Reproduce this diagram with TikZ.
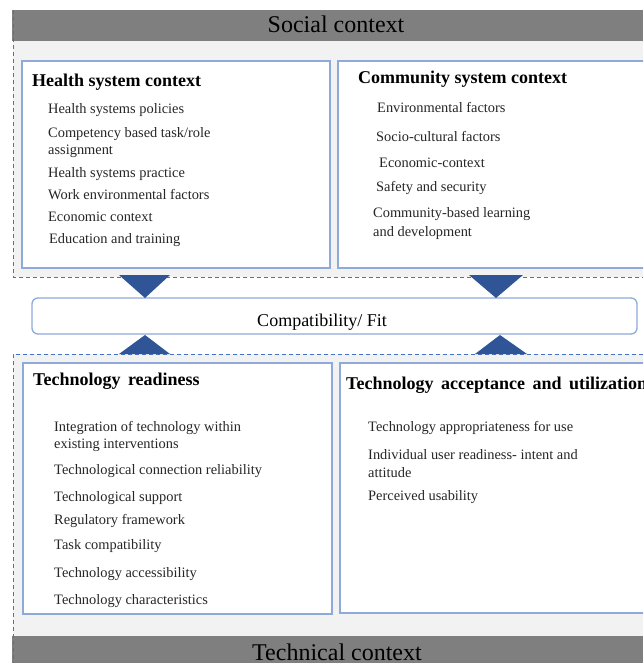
\documentclass[tikz,border=0pt]{standalone}
\usepackage{fontspec}
\setmainfont{Liberation Serif}
\definecolor{bandgray}{HTML}{7F7F7F}
\definecolor{lightbg}{HTML}{F2F2F2}
\definecolor{panelblue}{HTML}{8EAADB}
\definecolor{dashblue}{HTML}{4472C4}
\definecolor{arrowblue}{HTML}{2F5597}
\tikzset{
  panel/.style={draw=panelblue, fill=white, line width=1.3pt, inner sep=0, rectangle},
  item/.style={anchor=base west, inner sep=0, font=\fontsize{14.4}{16}\selectfont, text=black!85},
  head/.style={anchor=base west, inner sep=0, font=\bfseries\fontsize{18}{20}\selectfont},
  bandtext/.style={anchor=base, inner sep=0, font=\fontsize{24}{26}\selectfont},
  dashline/.style={draw=dashblue, line width=0.9pt, dash pattern=on 4pt off 3pt},
  tri/.style={fill=arrowblue, draw=none}
}
\begin{document}
\begin{tikzpicture}[x=1pt, y=-1pt]
\useasboundingbox (0,0) rectangle (643,663);
\clip (0,0) rectangle (643,663);
% backgrounds
\fill[lightbg] (13,41) rectangle (643,277);
\fill[lightbg] (13,354) rectangle (643,636);
\fill[bandgray] (12,10) rectangle (643,41);
\fill[bandgray] (12,636) rectangle (643,663);
\node[bandtext] (social) at (336,33) {Social context};
\node[bandtext] (technical) at (337,660) {Technical context};
% dashed outlines
\draw[dashline] (13,10) -- (13,277) -- (643,277);
\draw[dashline] (643,354) -- (13,354) -- (13,663);
% panels
\node[panel, minimum width=308pt, minimum height=207pt] (hs) at (176,164.5) {};
\node[panel, minimum width=320pt, minimum height=207pt] (cs) at (498,164.5) {};
\node[panel, minimum width=309pt, minimum height=251pt] (tr) at (177.5,488.5) {};
\node[panel, minimum width=320pt, minimum height=250pt] (ta) at (500,488) {};
% compatibility box
\node[draw=panelblue, fill=white, line width=1.3pt, rounded corners=6pt, minimum width=605pt, minimum height=36pt, inner sep=0] (fit) at (334.5,316) {};
\node[anchor=base, inner sep=0, font=\fontsize{18}{20}\selectfont] (fittext) at (322,326.5) {Compatibility/ Fit};
% arrows
\fill[tri] (119,275) -- (170,275) -- (145,298) -- cycle;
\fill[tri] (469,275) -- (523,275) -- (496,298) -- cycle;
\fill[tri] (119,354) -- (170,354) -- (145,335) -- cycle;
\fill[tri] (475,354) -- (527,354) -- (500,335) -- cycle;
% health system context
\node[head] (hsh) at (32,87) {Health system context};
\node[item] (hs1) at (48,113.5) {Health systems policies};
\node[item] (hs2) at (48,137.5) {Competency based task/role};
\node[item] (hs2b) at (48,154.5) {assignment};
\node[item] (hs3) at (48,177.5) {Health systems practice};
\node[item] (hs4) at (48,199.5) {Work environmental factors};
\node[item] (hs5) at (48,221.5) {Economic context};
\node[item] (hs6) at (49,243.5) {Education and training};
% community system context
\node[head] (csh) at (358,83.5) {Community system context};
\node[item] (cs1) at (377,112.5) {Environmental factors};
\node[item] (cs2) at (376,141.5) {Socio-cultural factors};
\node[item] (cs3) at (379,167.5) {Economic-context};
\node[item] (cs4) at (376,191.5) {Safety and security};
\node[item] (cs5) at (373,217.5) {Community-based learning};
\node[item] (cs5b) at (373,236.5) {and development};
% technology readiness
\node[head] (trh) at (33,385.5) {Technology\hspace{3pt} readiness};
\node[item] (tr1) at (54,431.5) {Integration of technology within};
\node[item] (tr1b) at (54,448.5) {existing interventions};
\node[item] (tr2) at (54,474.5) {Technological connection reliability};
\node[item] (tr3) at (54,501.5) {Technological support};
\node[item] (tr4) at (54,524.5) {Regulatory framework};
\node[item] (tr5) at (54,549.5) {Task compatibility};
\node[item] (tr6) at (54,577.5) {Technology accessibility};
\node[item] (tr7) at (54,604.5) {Technology characteristics};
% technology acceptance
\node[head] (tah) at (346,389.5) {Technology\hspace{3pt} acceptance\hspace{3pt} and\hspace{3pt} utilization};
\node[item] (ta1) at (368,431.5) {Technology appropriateness for use};
\node[item] (ta2) at (368,459.5) {Individual user readiness- intent and};
\node[item] (ta2b) at (368,477.5) {attitude};
\node[item] (ta3) at (368,500.5) {Perceived usability};
\end{tikzpicture}
\end{document}
